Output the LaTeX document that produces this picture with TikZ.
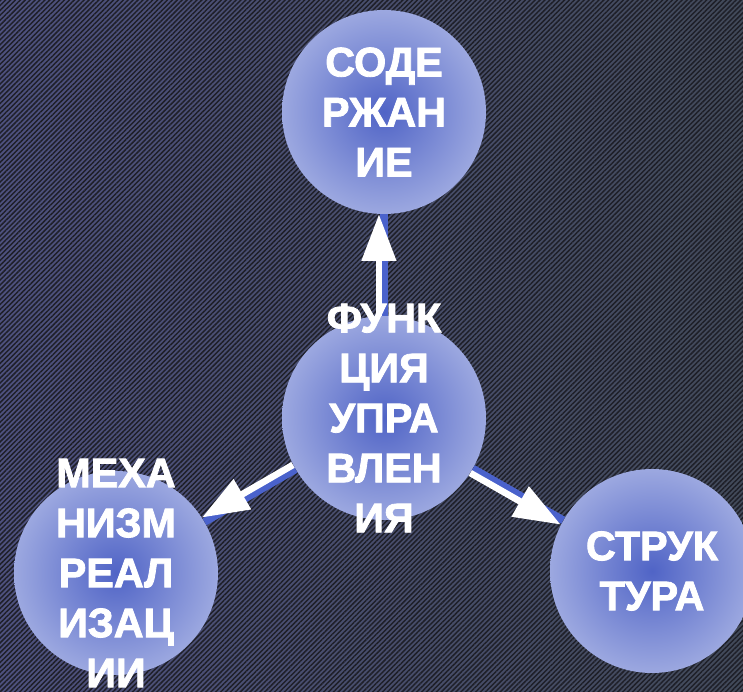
\documentclass[tikz,border=0pt]{standalone}
\usepackage{fontspec}
\setmainfont{Liberation Sans}[BoldFeatures={FakeBold=2}]
\usetikzlibrary{arrows.meta,patterns.meta}

\definecolor{bgleft}{HTML}{4E517F}
\definecolor{bgright}{HTML}{424A5A}
\definecolor{stripe}{HTML}{1E1F28}
\definecolor{ballin}{HTML}{5064C6}
\definecolor{ballout}{HTML}{9CA8E0}
\definecolor{linkblue}{HTML}{4A62CC}

\tikzset{
  ball/.style={circle, minimum size=153pt, inner sep=0pt, inner color=ballin, outer color=ballout},
  word/.style={text=white, font=\bfseries\fontsize{31}{37.5}\selectfont, align=center},
  link/.style={draw=linkblue, line width=6pt},
  flow/.style={draw=white, line width=5pt, -{Triangle[length=35pt,width=25pt]}}
}

\begin{document}
\begin{tikzpicture}[x=0.75pt,y=-0.75pt]

\useasboundingbox (0,0) rectangle (743,692);
\clip (0,0) rectangle (743,692);
\fill[left color=bgleft, right color=bgright] (0,0) rectangle (743,692);
\fill[pattern={Lines[angle=45,distance=2.6pt,line width=1.1pt]}, pattern color=stripe] (0,0) rectangle (743,692);

% circles
\node[ball] (content) at (384,112) {};
\node[ball] (func) at (384,418) {};
\node[ball] (mech) at (116,573) {};
\node[ball] (struct) at (652,571) {};

% links
\draw[link] (func) -- (content);
\draw[link] (func) -- (mech);
\draw[link] (func) -- (struct);
\draw[flow, transform canvas={xshift=-3.8pt}] (func) -- (content);
\draw[flow, transform canvas={xshift=-1.9pt,yshift=3.2pt}] (func) -- (mech);
\draw[flow, transform canvas={xshift=-1.9pt,yshift=-3.2pt}] (func) -- (struct);

% texts
\node[word] (contenttext) at (content) {СОДЕ\\РЖАН\\ИЕ};
\node[word] (functext) at (func) {ФУНК\\ЦИЯ\\УПРА\\ВЛЕН\\ИЯ};
\node[word] (mechtext) at (mech) {МЕХА\\НИЗМ\\РЕАЛ\\ИЗАЦ\\ИИ};
\node[word] (structtext) at (struct) {СТРУК\\ТУРА};

\end{tikzpicture}
\end{document}
